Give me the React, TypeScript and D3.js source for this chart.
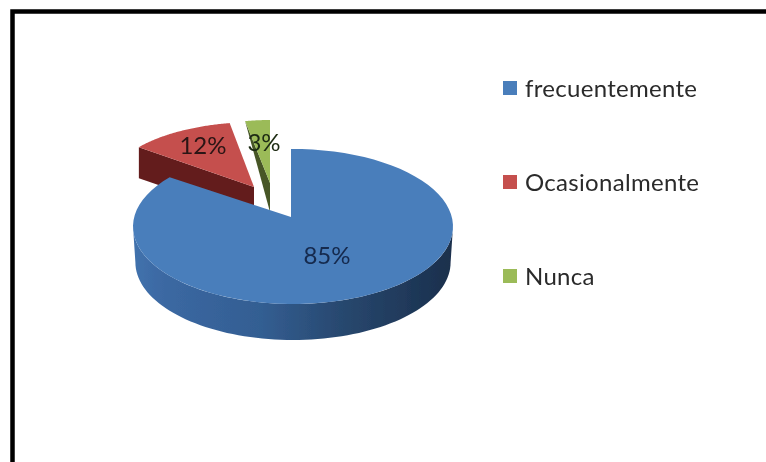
import React from "react";
import * as d3 from "d3";

const categories = ["frecuentemente", "Ocasionalmente", "Nunca"];
const percentages = [85, 12, 3];
const faceColors = ["#4a7ebb", "#c5504e", "#9bbb59"];
const wallColors = ["#2e5584", "#631c1c", "#465626"];

const W = 766;
const H = 462;
const TAU = Math.PI * 2;

type Slice = {
  apex: [number, number];
  centre: [number, number];
  rx: number;
  ry: number;
  stretch: number;
  turn: number;
  rimDepth: number;
  apexDepth: number;
  label: [number, number];
  labelColor: string;
};

const slices: Slice[] = [
  { apex: [291, 217], centre: [293, 226.5], rx: 160, ry: 77.5, stretch: 1.014, turn: -0.0125, rimDepth: 36, apexDepth: 0, label: [327, 254], labelColor: "#14294d" },
  { apex: [254, 187], centre: [257, 183], rx: 146, ry: 61, stretch: 1, turn: 0, rimDepth: 31, apexDepth: 31, label: [203, 144], labelColor: "#2a1414" },
  { apex: [270, 183], centre: [270, 183], rx: 133, ry: 63, stretch: 1, turn: 0, rimDepth: 0, apexDepth: 29, label: [264, 141], labelColor: "#1d2a12" },
];

const line = d3.line<[number, number]>();
const pie = d3.pie<number>().sort(null);

export default function App() {
  const arcs = pie(percentages);
  const legendY = d3.scalePoint<string>().domain(categories).range([88, 276]);

  const rimAt = (s: Slice, a: number): [number, number] => {
    const t = a * s.stretch + s.turn;
    return [s.centre[0] + s.rx * Math.sin(t), s.centre[1] - s.ry * Math.cos(t)];
  };
  const rim = (s: Slice, a0: number, a1: number) =>
    d3.range(0, 81).map((i) => rimAt(s, a0 + ((a1 - a0) * i) / 80));

  const faces = arcs.map((d, i) => {
    const s = slices[i];
    return line([s.apex, ...rim(s, d.startAngle, d.endAngle)]) + "Z";
  });

  const walls = arcs.map((d, i) => {
    const s = slices[i];
    if (i === 0) {
      const front = rim(s, (TAU / 4 - s.turn) / s.stretch, (TAU * 0.75 - s.turn) / s.stretch);
      const lower = front
        .map(([x, y]) => [s.centre[0] + (x - s.centre[0]) * 0.985, y + s.rimDepth] as [number, number])
        .reverse();
      return line([...front, ...lower]) + "Z";
    }
    const p = rimAt(s, d.startAngle);
    return (
      line([
        p,
        s.apex,
        [s.apex[0], s.apex[1] + s.apexDepth],
        [p[0], p[1] + s.rimDepth],
      ]) + "Z"
    );
  });

  return (
    <svg
      width={W}
      height={H}
      viewBox={`0 0 ${W} ${H}`}
      style={{ position: "absolute", left: 0, top: 0, display: "block" }}
    >
      <defs>
        <linearGradient id="blueWall" x1="133" x2="453" y1="0" y2="0" gradientUnits="userSpaceOnUse">
          <stop offset="0" stopColor="#4272ad" />
          <stop offset="0.1" stopColor="#3b68a2" />
          <stop offset="0.4" stopColor="#335e92" />
          <stop offset="0.65" stopColor="#28486f" />
          <stop offset="1" stopColor="#1a2f4c" />
        </linearGradient>
        <filter id="soft" x="-5%" y="-5%" width="110%" height="110%">
          <feGaussianBlur stdDeviation="0.6" />
        </filter>
      </defs>
      <rect width={W} height={H} fill="#ffffff" />
      <g filter="url(#soft)">
        <path d={`M12.5 ${H + 5}V11.5H${W + 5}`} fill="none" stroke="#000" strokeWidth={4.5} />
        {[1, 2, 0].map((i) => (
          <g key={categories[i]}>
            <path d={walls[i]} fill={i === 0 ? "url(#blueWall)" : wallColors[i]} />
            <path d={faces[i]} fill={faceColors[i]} />
          </g>
        ))}
        {percentages.map((v, i) => (
          <text
            key={i}
            x={slices[i].label[0]}
            y={slices[i].label[1]}
            textAnchor="middle"
            dominantBaseline="central"
            fontFamily="Lato, 'Open Sans', sans-serif"
            fontSize={24}
            fill={slices[i].labelColor}
          >
            {v}%
          </text>
        ))}
        {categories.map((c, i) => (
          <g key={c} transform={`translate(0,${legendY(c)})`}>
            <rect x={503} y={-7} width={14} height={14} fill={faceColors[i]} />
            <text
              x={525}
              y={-1}
              dominantBaseline="central"
              fontFamily="Lato, 'Open Sans', sans-serif"
              fontSize={24}
              letterSpacing={0.3}
              fill="#2b2b2b"
            >
              {c}
            </text>
          </g>
        ))}
      </g>
    </svg>
  );
}
